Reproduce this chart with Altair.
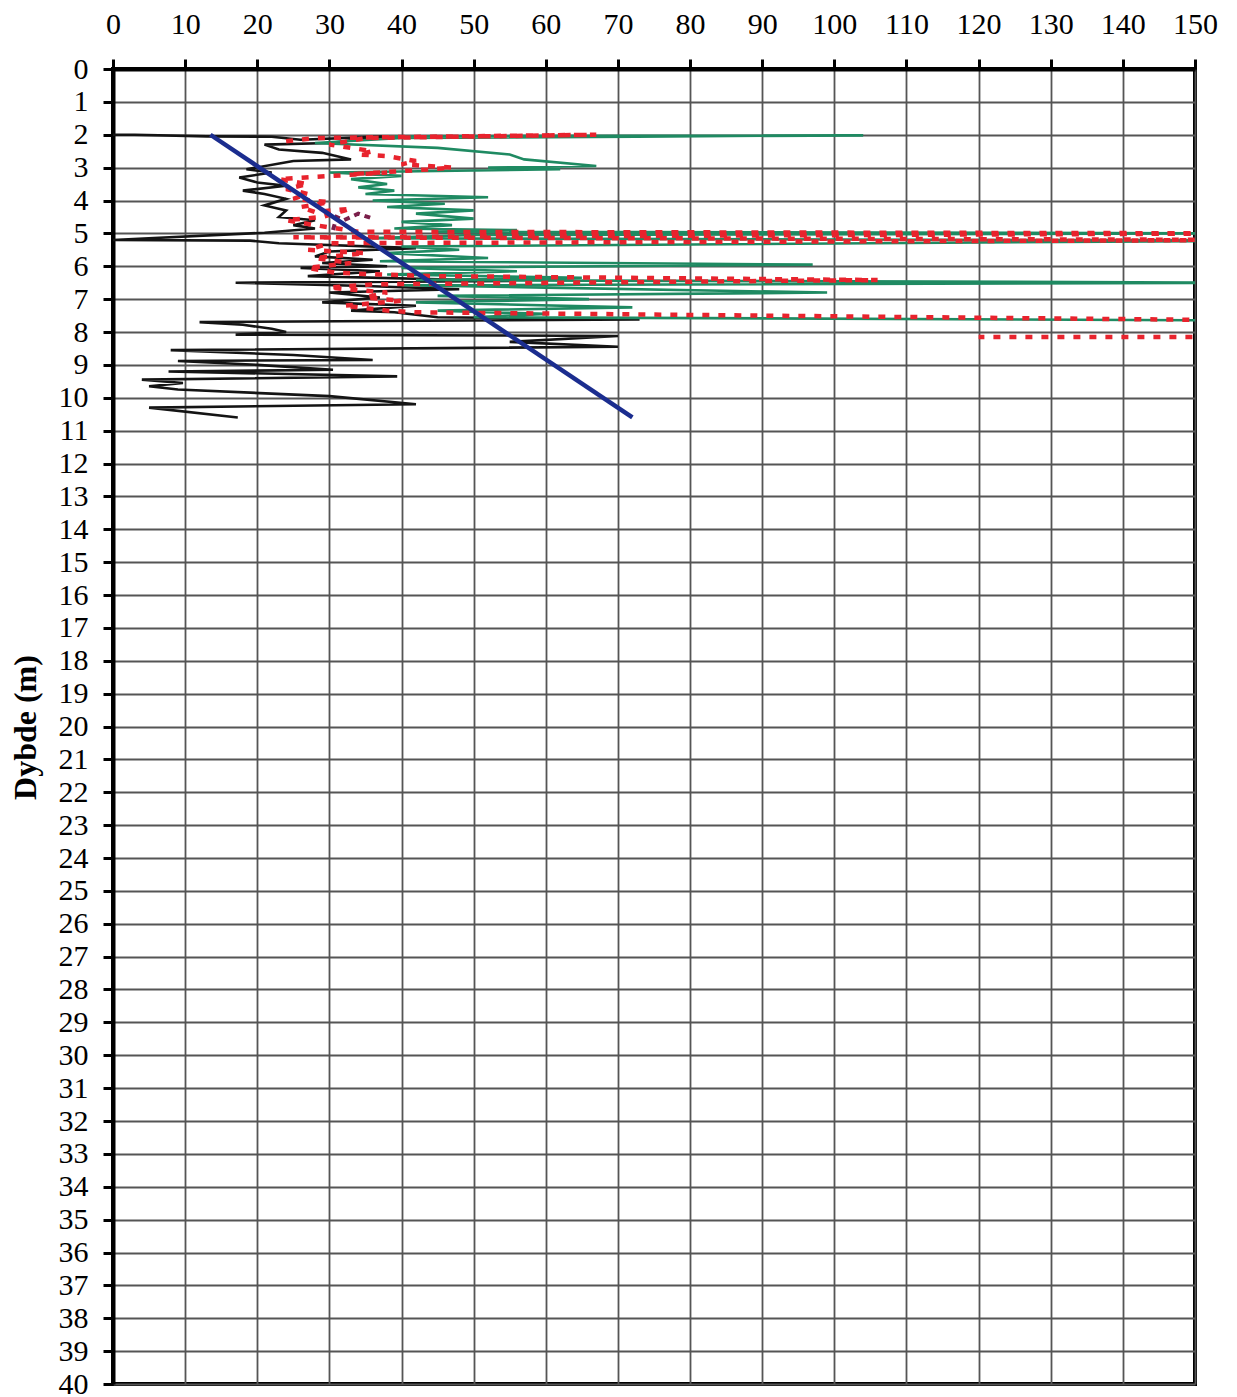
import altair as alt
import pandas as pd

# ---- data (value, depth in m) ----
black_x = [0, 3, 13, 22, 26, 38, 30, 21, 23, 29, 33, 25, 18.5, 22, 17.5, 20, 24, 18, 21, 24, 21, 24, 23, 28, 25, 28, 21,
           0, 19, 23, 42, 30, 28, 36, 29, 38, 26, 37, 27, 55, 17, 35, 48, 30, 37, 29, 42, 33, 39, 45, 73,
           12, 18, 22, 24, 17, 70, 55, 70, 8, 25, 36, 9, 20, 30.5, 7.7, 39.4, 4, 9.7, 5, 9, 30, 42, 5, 17.3]
black_d = [2.0, 2.0, 2.05, 2.06, 2.15, 2.05, 2.25, 2.3, 2.45, 2.55, 2.75, 2.8, 3.05, 3.15, 3.3, 3.45, 3.55, 3.7, 3.8, 3.95, 4.15, 4.3, 4.5, 4.6, 4.75, 4.85, 4.98,
           5.2, 5.22, 5.3, 5.45, 5.55, 5.7, 5.8, 5.9, 6.0, 6.05, 6.15, 6.3, 6.45, 6.5, 6.6, 6.7, 6.8, 6.95, 7.1, 7.2, 7.35, 7.4, 7.55, 7.62,
           7.7, 7.78, 7.9, 8.0, 8.08, 8.12, 8.3, 8.45, 8.55, 8.7, 8.85, 8.88, 9.0, 9.15, 9.2, 9.35, 9.45, 9.55, 9.65, 9.75, 9.95, 10.2, 10.3, 10.6]

green_x = [38, 104, 40, 28, 45, 55, 57, 67, 52, 62, 30, 40, 33, 38, 34, 39, 35, 52, 36, 46, 38, 50, 42, 50, 40, 47, 39, 56, 45,
           160, 50, 35, 160, 40, 48, 38, 52, 37, 97, 40, 56, 38, 65, 42, 160, 40, 60, 99, 45, 66, 42, 72, 45, 60, 50, 160]
green_d = [2.05, 2.02, 2.1, 2.25, 2.4, 2.6, 2.75, 2.95, 3.0, 3.05, 3.15, 3.25, 3.35, 3.5, 3.6, 3.7, 3.8, 3.9, 4.0, 4.1, 4.2, 4.3, 4.4, 4.55, 4.65, 4.75, 4.85, 4.9, 4.95,
           5.0, 5.05, 5.15, 5.22, 5.4, 5.5, 5.6, 5.75, 5.85, 5.95, 6.05, 6.15, 6.25, 6.35, 6.42, 6.5, 6.58, 6.65, 6.8, 6.9, 7.0, 7.1, 7.25, 7.35, 7.45, 7.55, 7.65]

red_x = [24, 28, 67, 35, 30, 36, 34, 38, 42, 40, 47, 44, 33, 38, 23, 27, 24, 27, 25, 30, 26, 28, 33, 29, 24, 28, 34,
         160, 25, 160, 30, 27, 35, 28, 33, 27, 31, 37, 45, 106, 36, 30, 38, 35, 40, 32, 38, 42, 160, 160, 120]
red_d = [2.2, 2.1, 2.0, 2.1, 2.3, 2.5, 2.6, 2.65, 2.8, 2.9, 3.0, 3.05, 3.2, 3.15, 3.35, 3.5, 3.65, 3.8, 3.95, 4.05, 4.2, 4.35, 4.25, 4.5, 4.6, 4.75, 4.95,
         5.0, 5.12, 5.2, 5.3, 5.5, 5.6, 5.75, 5.9, 6.05, 6.2, 6.25, 6.3, 6.42, 6.55, 6.65, 6.8, 6.95, 7.05, 7.2, 7.35, 7.4, 7.65, 8.15, 8.15]

maroon_x = [30.5, 31, 32, 34, 36]
maroon_d = [4.9, 4.5, 4.6, 4.4, 4.55]

blue_x = [13.5, 72]
blue_d = [2.0, 10.6]

x_ticks = list(range(0, 151, 10))
y_ticks = list(range(0, 41))


def frame(xs, ds, name):
    return pd.DataFrame({"v": xs, "d": ds, "i": list(range(len(xs))), "s": name})


xs = alt.Scale(domain=[0, 150], nice=False, zero=False)
ys = alt.Scale(domain=[0, 40], nice=False, reverse=True)

x_axis = alt.Axis(orient="top", values=x_ticks, title=None, labelFont="Liberation Serif",
                  labelFontSize=30, labelColor="black", tickSize=10, tickWidth=3, tickColor="black",
                  labelPadding=20, domainWidth=4, domainColor="black", grid=True,
                  gridColor="#555555", gridWidth=1.8, labelFlush=False, labelOverlap=False)
y_axis = alt.Axis(values=y_ticks, title="Dybde (m)", titleFont="Liberation Serif", titleFontSize=32,
                  titleFontWeight="bold", titleColor="black", titleX=-71, titleY=658,
                  labelFont="Liberation Serif", labelFontSize=30, labelColor="black", tickSize=10,
                  tickWidth=3, tickColor="black", labelPadding=15, domainWidth=4, domainColor="black",
                  grid=True, gridColor="#555555", gridWidth=1.8, labelFlush=False, labelOverlap=False)


def line(df, color, width, dash=None):
    kw = dict(color=color, strokeWidth=width, clip=True, strokeCap="butt")
    if dash:
        kw["strokeDash"] = dash
    enc = dict(
        x=alt.X("v:Q", scale=xs, axis=x_axis),
        y=alt.Y("d:Q", scale=ys, axis=y_axis),
        order=alt.Order("i:Q"),
    )
    return alt.Chart(df).mark_line(**kw).encode(**enc)


layers = [
    line(frame(black_x, black_d, "black"), "#141414", 2.6),
    line(frame(green_x, green_d, "green"), "#1f8a62", 2.6),
    line(frame(red_x, red_d, "red"), "#e8232d", 4.5, dash=[7, 9]),
    line(frame(maroon_x, maroon_d, "maroon"), "#7a1f4a", 4, dash=[6, 5]),
    line(frame(blue_x, blue_d, "blue"), "#1b2d8f", 4.5),
]

chart = alt.layer(*layers).properties(
    width=1082, height=1315,
    autosize=alt.AutoSizeParams(type="none"),
    padding={"left": 113, "top": 69, "right": 42, "bottom": 13},
    background="white",
).configure_view(stroke="black", strokeWidth=4)

chart.save("out.html", embed_options={"renderer": "svg", "actions": False})
